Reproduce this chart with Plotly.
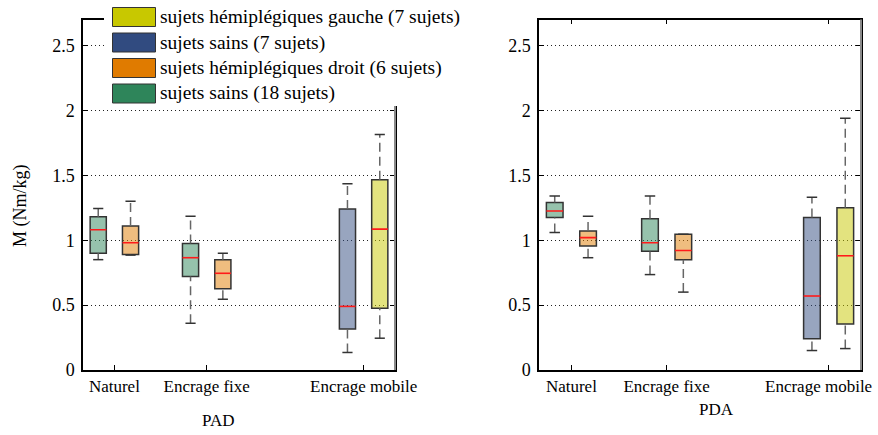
import plotly.graph_objects as go

# Canvas size in pixels (margins are zero, so paper coords map directly to pixels)
W, H = 878, 435

# Categories along the x axis and their numeric positions
categories = ["Naturel", "Encrage fixe", "Encrage mobile"]
cat_pos = [1.0, 2.0, 3.7]

# Y axis ticks (M, Nm/kg)
y_ticks = [0, 0.5, 1, 1.5, 2, 2.5]
y_tick_text = ["0", "0.5", "1", "1.5", "2", "2.5"]

# Groups: legend label, solid colour
group_labels = [
    "sujets hémiplégiques gauche (7 sujets)",
    "sujets sains (7 sujets)",
    "sujets hémiplégiques droit (6 sujets)",
    "sujets sains (18 sujets)",
]
group_colors = ["#C8C800", "#314B80", "#E07B00", "#2E855A"]

# Five-number summaries per box: [min, q1, median, q3, max]
# --- PAD ---
pad_sains18_cats = ["Naturel", "Encrage fixe"]
pad_sains18 = [[0.85, 0.90, 1.08, 1.18, 1.245],
               [0.36, 0.72, 0.865, 0.975, 1.185]]
pad_droit_cats = ["Naturel", "Encrage fixe"]
pad_droit = [[0.885, 0.89, 0.98, 1.11, 1.30],
             [0.545, 0.625, 0.745, 0.85, 0.90]]
pad_sains7_cats = ["Encrage mobile"]
pad_sains7 = [[0.135, 0.315, 0.49, 1.24, 1.435]]
pad_gauche_cats = ["Encrage mobile"]
pad_gauche = [[0.245, 0.475, 1.085, 1.465, 1.815]]

# --- PDA ---
pda_sains18_cats = ["Naturel", "Encrage fixe"]
pda_sains18 = [[1.06, 1.175, 1.225, 1.29, 1.34],
               [0.735, 0.915, 0.98, 1.165, 1.34]]
pda_droit_cats = ["Naturel", "Encrage fixe"]
pda_droit = [[0.865, 0.955, 1.02, 1.07, 1.185],
             [0.60, 0.85, 0.92, 1.045, 1.045]]
pda_sains7_cats = ["Encrage mobile"]
pda_sains7 = [[0.15, 0.24, 0.57, 1.175, 1.33]]
pda_gauche_cats = ["Encrage mobile"]
pda_gauche = [[0.165, 0.355, 0.88, 1.25, 1.94]]

BOX_W = 0.175      # box width in x units
OFFSET = 0.175     # horizontal shift of each box from its category tick
CAP = 0.055        # half-length of whisker caps
FONT = "Liberation Serif, Times New Roman, serif"


def px(x):
    return x / W


def py(y):
    return 1 - y / H


def rgba(hex_color, a):
    h = hex_color.lstrip("#")
    r, g, b = int(h[0:2], 16), int(h[2:4], 16), int(h[4:6], 16)
    return f"rgba({r},{g},{b},{a})"


def add_boxes(fig, cats, stats, color, side, xa, ya):
    xs = [cat_pos[categories.index(c)] + side * OFFSET for c in cats]
    lo = [s[0] for s in stats]
    q1 = [s[1] for s in stats]
    med = [s[2] for s in stats]
    q3 = [s[3] for s in stats]
    hi = [s[4] for s in stats]

    # box body
    fig.add_trace(go.Bar(
        x=xs, base=q1, y=[b - a for a, b in zip(q1, q3)], width=BOX_W,
        marker=dict(color=rgba(color, 0.5), line=dict(color="#333333", width=1.5)),
        xaxis=xa, yaxis=ya, showlegend=False, hoverinfo="skip"))

    # dashed whiskers
    wx, wy = [], []
    for x, a, b, c, d in zip(xs, lo, q1, q3, hi):
        wx += [x, x, None, x, x, None]
        wy += [c, d, None, a, b, None]
    fig.add_trace(go.Scatter(
        x=wx, y=wy, mode="lines", xaxis=xa, yaxis=ya, showlegend=False,
        line=dict(color="#666666", width=1.5, dash="9px,5px"), hoverinfo="skip"))

    # whisker caps
    cx, cy = [], []
    for x, a, d in zip(xs, lo, hi):
        cx += [x - CAP, x + CAP, None, x - CAP, x + CAP, None]
        cy += [d, d, None, a, a, None]
    fig.add_trace(go.Scatter(
        x=cx, y=cy, mode="lines", xaxis=xa, yaxis=ya, showlegend=False,
        line=dict(color="#333333", width=1.5), hoverinfo="skip"))

    # median lines
    mx, my = [], []
    for x, m in zip(xs, med):
        mx += [x - BOX_W / 2, x + BOX_W / 2, None]
        my += [m, m, None]
    fig.add_trace(go.Scatter(
        x=mx, y=my, mode="lines", xaxis=xa, yaxis=ya, showlegend=False,
        line=dict(color="#FF1A1A", width=1.6), hoverinfo="skip"))


fig = go.Figure()

# PAD panel
add_boxes(fig, pad_sains18_cats, pad_sains18, group_colors[3], -1, "x", "y")
add_boxes(fig, pad_droit_cats, pad_droit, group_colors[2], +1, "x", "y")
add_boxes(fig, pad_sains7_cats, pad_sains7, group_colors[1], -1, "x", "y")
add_boxes(fig, pad_gauche_cats, pad_gauche, group_colors[0], +1, "x", "y")

# PDA panel
add_boxes(fig, pda_sains18_cats, pda_sains18, group_colors[3], -1, "x2", "y2")
add_boxes(fig, pda_droit_cats, pda_droit, group_colors[2], +1, "x2", "y2")
add_boxes(fig, pda_sains7_cats, pda_sains7, group_colors[1], -1, "x2", "y2")
add_boxes(fig, pda_gauche_cats, pda_gauche, group_colors[0], +1, "x2", "y2")

x_common = dict(
    range=[0.66, 4.04], tickvals=cat_pos,
    ticks="inside", ticklen=5, tickcolor="black", tickwidth=1,
    showline=True, linecolor="black", linewidth=1.5, mirror="ticks",
    showgrid=False, zeroline=False, automargin=False,
    ticklabeloverflow="allow",
    tickfont=dict(family=FONT, size=17, color="black"),
)
y_common = dict(
    range=[0, 2.7], tickvals=y_ticks, ticktext=y_tick_text,
    ticks="inside", ticklen=5, tickcolor="black", tickwidth=1,
    showline=True, linecolor="black", linewidth=1.5, mirror="ticks",
    showgrid=True, gridcolor="#222222", gridwidth=1, griddash="1px,3px",
    zeroline=False, ticklabelstandoff=3, automargin=False,
    tickfont=dict(family=FONT, size=18, color="black"),
)

# the last PDA category label sits against the right edge, so it is
# written separately and nudged left to stay on the canvas
pda_tick_text = categories[:-1] + [""]

y_dom = [py(370), py(19.5)]
fig.update_layout(
    width=W, height=H,
    margin=dict(l=0, r=0, t=0, b=0, autoexpand=False),
    paper_bgcolor="white", plot_bgcolor="white",
    barmode="overlay", showlegend=False,
    xaxis=dict(domain=[px(83), px(395)], anchor="y", ticktext=categories, **x_common),
    yaxis=dict(domain=y_dom, anchor="x", **y_common),
    xaxis2=dict(domain=[px(539), px(861)], anchor="y2", ticktext=pda_tick_text, **x_common),
    yaxis2=dict(domain=y_dom, anchor="x2", **y_common),
)

shapes = []
# lighter right-hand frame edges
for xr, yr in (("x domain", "y domain"), ("x2 domain", "y2 domain")):
    shapes.append(dict(type="line", xref=xr, yref=yr, x0=1, x1=1, y0=0, y1=1,
                       line=dict(color="#8A8A8A", width=2), layer="above"))

# legend panel (white background over the top of the PAD frame)
shapes.append(dict(type="rect", xref="paper", yref="paper",
                   x0=px(104), x1=px(470), y0=py(106), y1=py(0),
                   fillcolor="white", line=dict(width=0), layer="above"))

legend_rows = [17, 42.5, 68, 93.5]
annotations = []
for label, color, yc in zip(group_labels, group_colors, legend_rows):
    shapes.append(dict(type="rect", xref="paper", yref="paper",
                       x0=px(112.5), x1=px(155.5), y0=py(yc + 9.5), y1=py(yc - 9.5),
                       fillcolor=color, line=dict(color="#333333", width=1),
                       layer="above"))
    annotations.append(dict(text=label, xref="paper", yref="paper",
                            x=px(158), y=py(yc), xanchor="left", yanchor="middle",
                            showarrow=False,
                            font=dict(family=FONT, size=19.5, color="black")))

# last category label of the PDA panel
annotations.append(dict(text=categories[-1], xref="x2", yref="paper",
                        x=cat_pos[-1], y=py(386), xshift=-10, showarrow=False,
                        xanchor="center", yanchor="middle",
                        font=dict(family=FONT, size=17, color="black")))

# axis titles
annotations.append(dict(text="M (Nm/kg)", xref="paper", yref="paper",
                        x=px(20), y=py(206), textangle=-90, showarrow=False,
                        xanchor="center", yanchor="middle",
                        font=dict(family=FONT, size=18, color="black")))
annotations.append(dict(text="PAD", xref="paper", yref="paper",
                        x=px(218), y=py(420), showarrow=False,
                        xanchor="center", yanchor="middle",
                        font=dict(family=FONT, size=17, color="black")))
annotations.append(dict(text="PDA", xref="paper", yref="paper",
                        x=px(716), y=py(409), showarrow=False,
                        xanchor="center", yanchor="middle",
                        font=dict(family=FONT, size=17, color="black")))

fig.update_layout(shapes=shapes, annotations=annotations)

fig.write_html("out.html")
